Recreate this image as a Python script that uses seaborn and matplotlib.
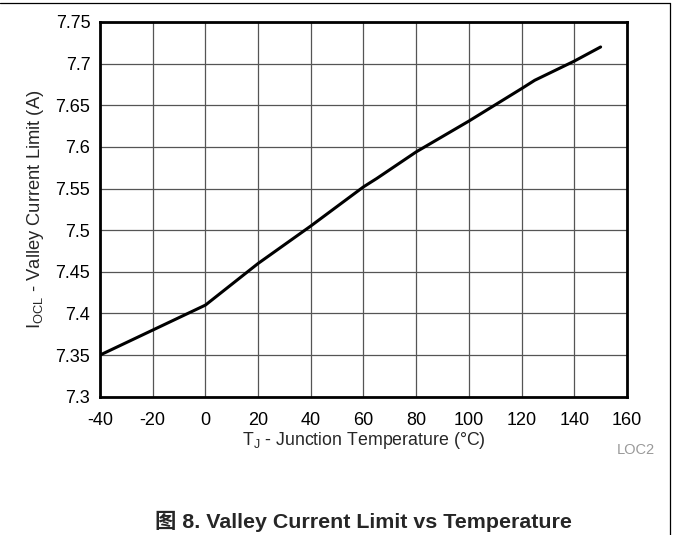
import matplotlib
matplotlib.use("Agg")
import matplotlib.pyplot as plt
from matplotlib.lines import Line2D
import seaborn as sns
import pandas as pd

# junction temperature (C) and valley current limit (A)
temp_c = [-40, -20, 0, 20, 40, 60, 65, 80, 100, 120, 125, 140, 150]
i_ocl = [7.35, 7.38, 7.41, 7.46, 7.505, 7.552, 7.562, 7.594, 7.631, 7.670, 7.680, 7.703, 7.72]

x_ticks = [-40, -20, 0, 20, 40, 60, 80, 100, 120, 140, 160]
y_ticks = [7.3, 7.35, 7.4, 7.45, 7.5, 7.55, 7.6, 7.65, 7.7, 7.75]
y_labels = ["7.3", "7.35", "7.4", "7.45", "7.5", "7.55", "7.6", "7.65", "7.7", "7.75"]

df = pd.DataFrame({"T": temp_c, "I": i_ocl})

sns.set_style("white")
plt.rcParams["font.family"] = ["Liberation Sans", "Noto Sans CJK SC", "DejaVu Sans"]
plt.rcParams["mathtext.fontset"] = "custom"
plt.rcParams["mathtext.rm"] = "Liberation Sans"

fig = plt.figure(figsize=(6.73, 5.35), dpi=100)
ax = fig.add_axes([0.1486, 0.2585, 0.9316 - 0.1486, 0.9589 - 0.2585])

sns.lineplot(data=df, x="T", y="I", ax=ax, color="black", lw=2.2)

ax.set_xlim(-40, 160)
ax.set_ylim(7.3, 7.75)
ax.set_xticks(x_ticks)
ax.set_xticklabels([str(t) for t in x_ticks])
ax.set_yticks(y_ticks)
ax.set_yticklabels(y_labels)
ax.grid(True, color="#555555", lw=0.9)
ax.tick_params(length=0, labelsize=13, colors="black")
ax.tick_params(axis="x", pad=11)
ax.tick_params(axis="y", pad=7)
for s in ax.spines.values():
    s.set_visible(True)
    s.set_color("black")
    s.set_linewidth(2.0)

ax.set_xlabel(r"$\mathregular{T_J}$ - Junction Temperature (°C)", fontsize=12.8, labelpad=1)
ax.set_ylabel(r"$\mathregular{I_{OCL}}$ - Valley Current Limit (A)", fontsize=13.2, labelpad=7)

fig.text(636 / 673, 1 - 450 / 535, "LOC2", fontsize=10.5, color="#999999", ha="center", va="center")
fig.text(363 / 673, 1 - 521 / 535, "图 8. Valley Current Limit vs Temperature",
         fontsize=15.4, fontweight="bold", ha="center", va="center")

# figure frame: top and right edge
fig.add_artist(Line2D([0, 670 / 673], [1 - 3 / 535, 1 - 3 / 535], color="black", lw=0.9))
fig.add_artist(Line2D([670 / 673, 670 / 673], [1 - 3 / 535, 0], color="black", lw=0.9))

fig.savefig("out.png", dpi=100)
